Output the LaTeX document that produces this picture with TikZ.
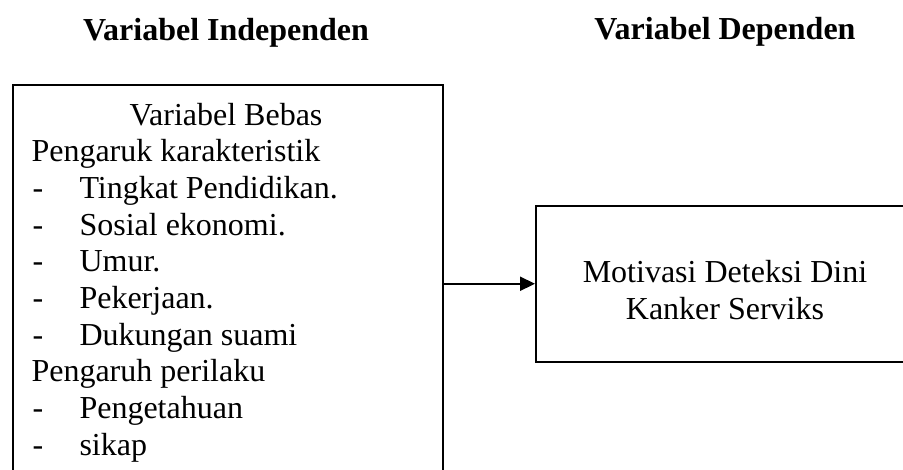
\documentclass[tikz,border=0pt]{standalone}
\usepackage{fontspec}
\setmainfont{Liberation Serif}
\usetikzlibrary{arrows.meta}
\begin{document}
\begin{tikzpicture}[x=1pt, y=-1pt, line join=miter,
  kotak/.style={draw, line width=1.5pt, inner sep=0pt},
  judul/.style={anchor=base, font=\fontsize{32}{36.7}\selectfont\bfseries},
  baris/.style={anchor=base west, font=\fontsize{32}{36.7}\selectfont}]
  \useasboundingbox (0,0) rectangle (903,469);
  \clip (0,0) rectangle (903,469);
  \node[judul] (indep) at (226,40) {Variabel Independen};
  \node[judul] (dep) at (725,39) {Variabel Dependen};
  \node[kotak, minimum width=430pt, minimum height=410pt, anchor=north west] (bebas) at (12,84) {};
  \node[kotak, minimum width=380pt, minimum height=156pt, anchor=north west] (terikat) at (535,205) {};
  % isi kotak kiri
  \node[baris, anchor=base] (judulbebas) at (226,125) {Variabel Bebas};
  \node[baris] (karakter) at (28,161.7) {Pengaruk karakteristik};
  \foreach \teks [count=\i] in {Tingkat Pendidikan., Sosial ekonomi., Umur., Pekerjaan., Dukungan suami} {
    \node[baris] (strip\i) at (29,{161.7+36.7*\i}) {-};
    \node[baris] (item\i) at (76,{161.7+36.7*\i}) {\teks};
  }
  \node[baris] (perilaku) at (28,381.9) {Pengaruh perilaku};
  \foreach \teks [count=\i from 6] in {Pengetahuan, sikap} {
    \node[baris] (strip\i) at (29,{381.9+36.7*(\i-5)}) {-};
    \node[baris] (item\i) at (76,{381.9+36.7*(\i-5)}) {\teks};
  }
  % isi kotak kanan
  \node[align=center, font=\fontsize{32}{36.7}\selectfont] (motivasi) at (725,290) {Motivasi Deteksi Dini\\Kanker Serviks};
  \draw[-{Triangle[length=15pt,width=14pt]}, line width=2.2pt] (terikat.west -| bebas.east) -- (terikat.west);
\end{tikzpicture}
\end{document}
